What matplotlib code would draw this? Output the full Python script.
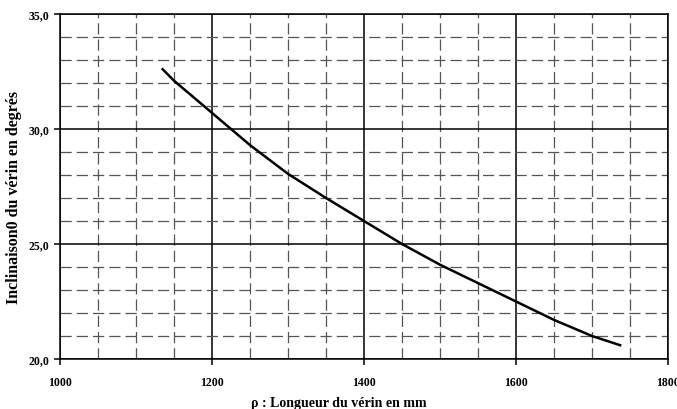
import matplotlib.pyplot as plt
from matplotlib.ticker import MultipleLocator, FuncFormatter

# longueur du verin (mm) et inclinaison (degres)
longueur = [1135, 1150, 1200, 1250, 1300, 1350, 1400, 1450, 1500, 1550, 1600, 1650, 1700, 1737]
inclinaison = [32.6, 32.1, 30.7, 29.3, 28.05, 27.0, 26.0, 25.0, 24.1, 23.3, 22.5, 21.7, 21.0, 20.6]

plt.rcParams['font.family'] = ['Liberation Serif', 'DejaVu Serif']
plt.rcParams['font.weight'] = 'bold'

fig = plt.figure(figsize=(6.77, 4.10), dpi=100)
ax = fig.add_axes([60 / 677, 50 / 410, 608 / 677, 345 / 410])

ax.set_xlim(1000, 1800)
ax.set_ylim(20, 35)
ax.xaxis.set_major_locator(MultipleLocator(200))
ax.xaxis.set_minor_locator(MultipleLocator(50))
ax.yaxis.set_major_locator(MultipleLocator(5))
ax.yaxis.set_minor_locator(MultipleLocator(1))
ax.yaxis.set_major_formatter(FuncFormatter(lambda v, p: f"{v:.1f}".replace('.', ',')))

# quadrillage
ax.grid(which='minor', color='#555555', linestyle=(0, (9, 4)), linewidth=0.9)
ax.grid(which='major', color='black', linestyle='-', linewidth=1.1)
ax.set_axisbelow(True)

ax.plot(longueur, inclinaison, color='black', linewidth=1.8)

for s in ax.spines.values():
    s.set_linewidth(1.1)
ax.tick_params(which='major', direction='out', length=4, width=1.1, labelsize=8.5)
ax.tick_params(which='minor', length=0)
ax.tick_params(axis='x', pad=8)

for lab in ax.get_xticklabels() + ax.get_yticklabels():
    lab.set_fontweight('bold')

fig.text(14 / 677, 1 - 198 / 410, 'Inclinaison0 du vérin en degrés', rotation=90,
         ha='center', va='center', fontsize=11.5, fontweight='bold')
fig.text(0.5, 3 / 410, 'ρ : Longueur du vérin en mm', ha='center', va='baseline',
         fontsize=10, fontweight='bold')

fig.savefig('out.png', dpi=100)
